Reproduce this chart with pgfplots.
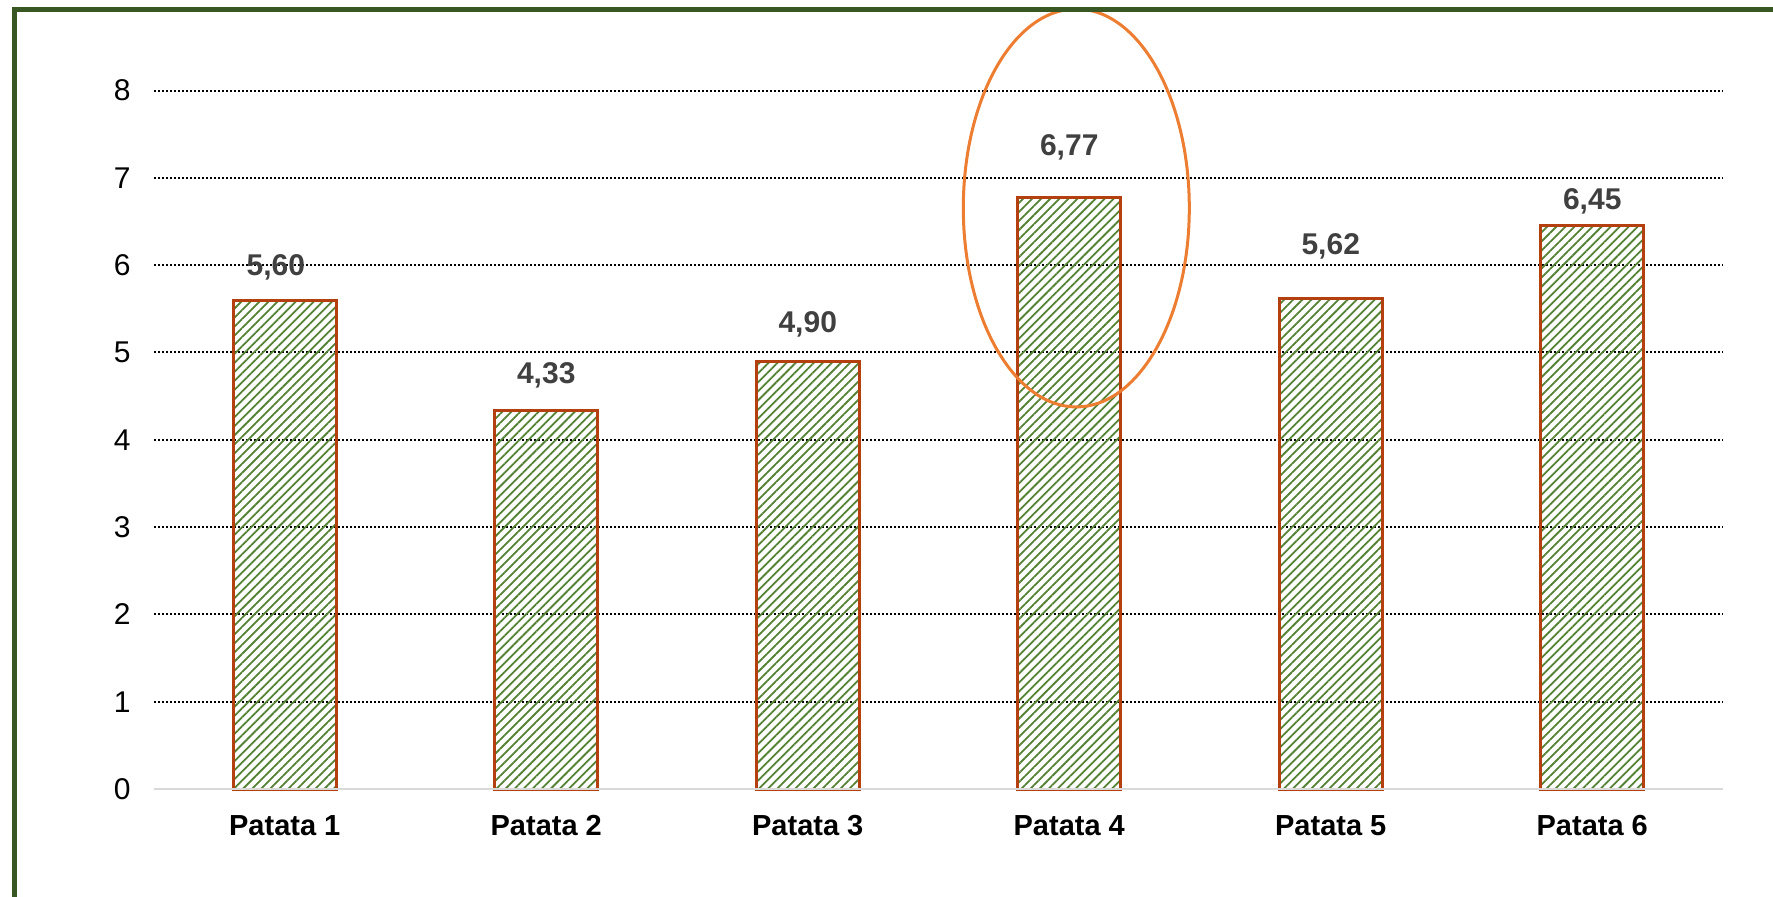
\documentclass[border=0pt]{standalone}
\usepackage{fontspec}
\setmainfont{Liberation Sans}
\usepackage{pgfplots}
\pgfplotsset{compat=1.18}
\usetikzlibrary{patterns.meta}
\definecolor{frame}{HTML}{385723}
\definecolor{barfill}{HTML}{548235}
\definecolor{baredge}{HTML}{B5400F}
\definecolor{lbl}{HTML}{404040}
\definecolor{ell}{HTML}{ED7D31}
\definecolor{base}{HTML}{D9D9D9}
\pgfplotsset{lblstyle/.style={only marks, mark=none, nodes near coords={#1},
  every node near coord/.append style={font=\bfseries\fontsize{15}{18}\selectfont, text=lbl, inner sep=0pt, anchor=center}}}
\begin{document}
\begin{tikzpicture}
\path[use as bounding box] (0,0) rectangle (886.5pt,448pt);
\begin{axis}[
  at={(77pt,53.5pt)}, anchor=south west,
  scale only axis, width=784.5pt, height=392.9pt,
  xmin=-0.5, xmax=5.5, ymin=0, ymax=9,
  clip=false,
  axis lines=left, axis line style={draw=none},
  major tick length=0pt, tick style={draw=none},
  ytick={0,1,...,8},
  xtick={0,1,2,3,4,5},
  xticklabels={Patata 1,Patata 2,Patata 3,Patata 4,Patata 5,Patata 6},
  /pgf/number format/assume math mode=true,
  yticklabel style={font=\fontsize{15}{18}\selectfont, text=black, anchor=east, inner sep=0pt, xshift=-11.5pt},
  xticklabel style={font=\bfseries\fontsize{14.5}{17}\selectfont, text=black, anchor=north, inner sep=0pt, yshift=-13pt},
  ymajorgrids,
  major grid style={black, line width=1pt, dash pattern=on 1pt off 1pt},
]
\addplot[ybar, bar width=0.395, draw=baredge, line width=1.5pt,
  pattern={Lines[angle=45, distance=3.2pt, line width=0.9pt]}, pattern color=barfill]
  coordinates {(0,5.60) (1,4.33) (2,4.90) (3,6.77) (4,5.62) (5,6.45)};
\draw[base, line width=1pt] (axis cs:-0.5,0) -- (axis cs:5.5,0);
\addplot[lblstyle={{5,60}}] coordinates {(-0.034,5.97)};
\addplot[lblstyle={{4,33}}] coordinates {(1,4.74)};
\addplot[lblstyle={{4,90}}] coordinates {(2,5.32)};
\addplot[lblstyle={{6,77}}] coordinates {(3,7.35)};
\addplot[lblstyle={{5,62}}] coordinates {(4,6.22)};
\addplot[lblstyle={{6,45}}] coordinates {(5,6.73)};
\draw[ell, line width=1.5pt] (axis cs:3.027,6.655) ellipse [x radius=56.5pt, y radius=99.5pt];
\end{axis}
\draw[frame, line width=2.5pt, line join=miter] (7.25pt,-2pt) -- (7.25pt,443.25pt) -- (890pt,443.25pt);
\end{tikzpicture}
\end{document}
